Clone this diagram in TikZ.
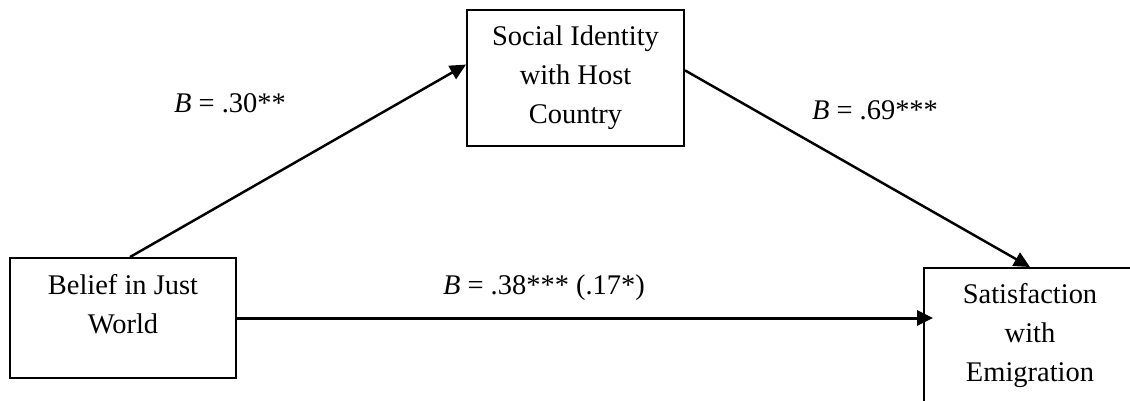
\documentclass[tikz,border=0pt]{standalone}
\usepackage{fontspec}
\setmainfont{Liberation Serif}
\usetikzlibrary{arrows.meta}

\tikzset{
	box/.style={draw, line width=1.1pt, align=center, inner sep=0pt,
		font=\fontsize{16.2}{22.2}\selectfont},
	effect/.style={line width=1.4pt, -{Triangle[length=0.32cm, width=0.3cm]}},
	coef/.style={font=\fontsize{16.2}{22.2}\selectfont}
}

\begin{document}
\begin{tikzpicture}[x=0.02cm, y=-0.02cm]
	\useasboundingbox (0,0) rectangle (1130,400);

	% variables
	\node[box, minimum width=4.52cm, minimum height=2.4cm] (bjw) at (123,318) {Belief in Just\\World\\[-6pt]~};
	\node[box, minimum width=4.34cm, minimum height=2.72cm] (sih) at (575.5,78) {Social Identity\\with Host\\Country};
	\node[box, minimum width=4.24cm, minimum height=2.72cm] (sat) at (1030,336) {Satisfaction\\with\\Emigration};

	% paths
	\draw[effect] ([xshift=0.14cm]bjw.north) -- (sih.173);
	\draw[effect] (sih.4) -- (sat.north);
	\draw[effect, line width=1.7pt] (bjw.east) -- ([xshift=0.2cm]bjw.east -| sat.west);

	% coefficients
	\node[coef] (ca) at (230,103) {\textit{B} = .30**};
	\node[coef] (cb) at (875,110) {\textit{B} = .69***};
	\node[coef] (cc) at (544,288) {\textit{B} = .38*** (.17*)};
\end{tikzpicture}
\end{document}
